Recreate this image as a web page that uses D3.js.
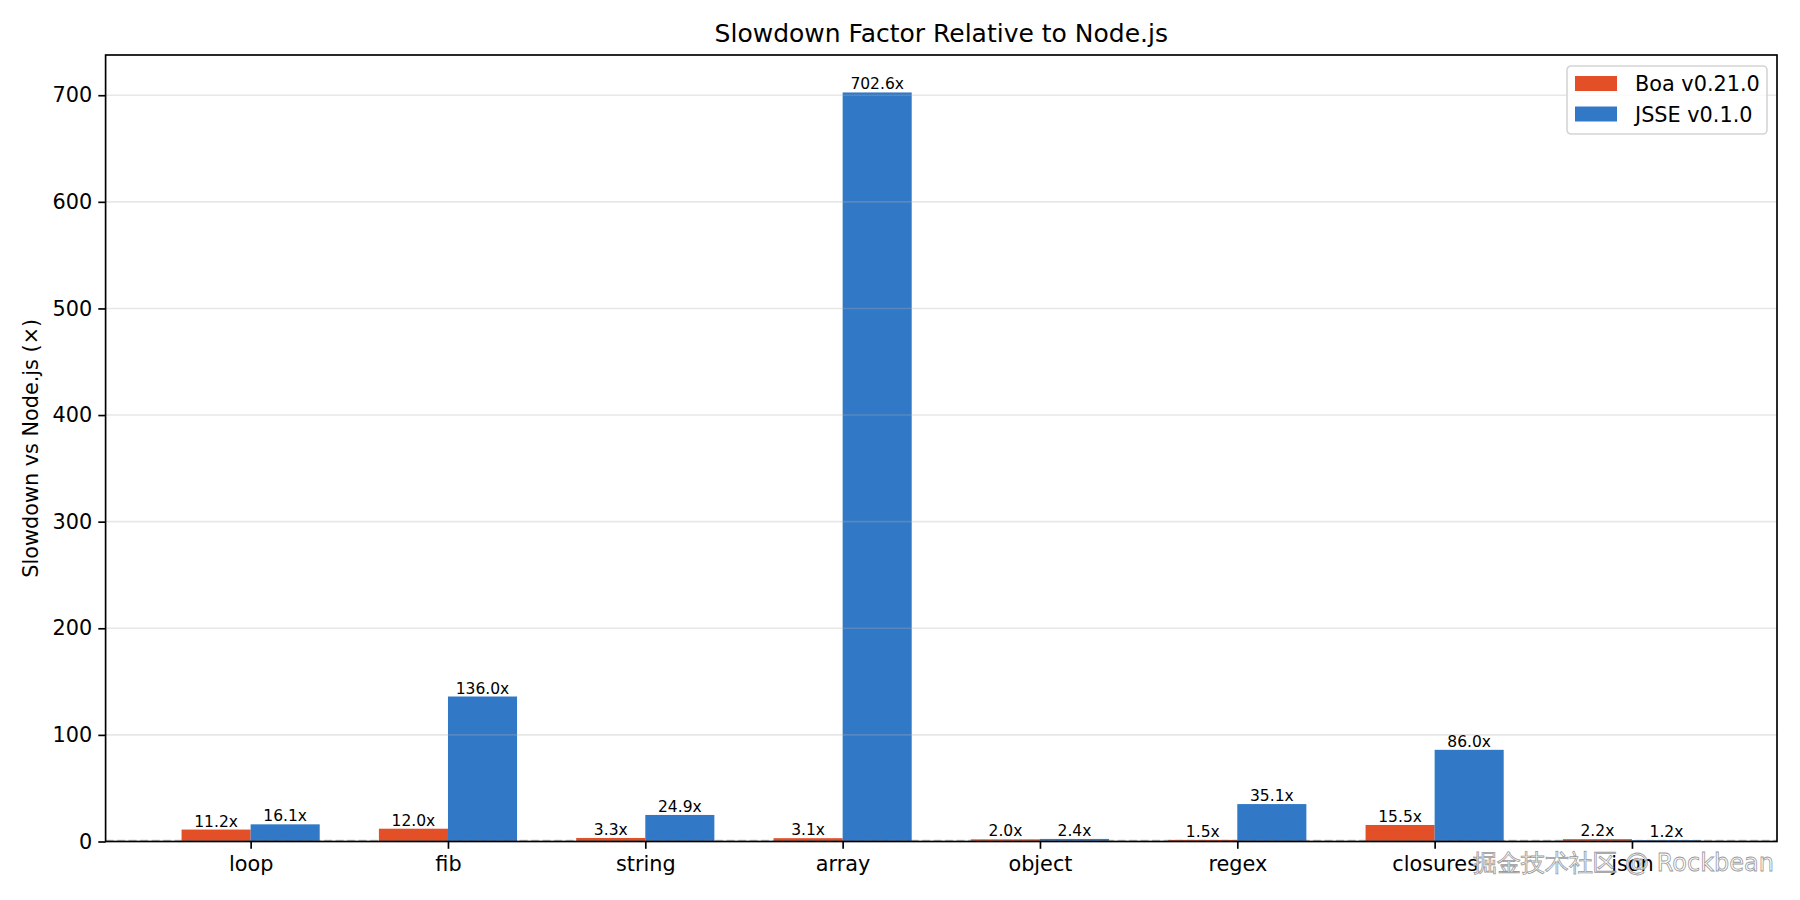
<!DOCTYPE html>
<html>
<head>
<meta charset="utf-8">
<script src="https://cdn.jsdelivr.net/npm/d3@7"></script>
<style>
  body { margin: 0; background: #fff; }
  text { font-family: "DejaVu Sans", sans-serif; fill: #000; }
</style>
</head>
<body>
<div id="chart"></div>
<script>
// data
const categories = ["loop", "fib", "string", "array", "object", "regex", "closures", "json"];
const boaValues = [11.2, 12.0, 3.3, 3.1, 2.0, 1.5, 15.5, 2.2];
const jsseValues = [16.1, 136.0, 24.9, 702.6, 2.4, 35.1, 86.0, 1.2];
const seriesNames = ["Boa v0.21.0", "JSSE v0.1.0"];
const seriesColors = ["#E34F26", "#3178C6"];
const yTicks = [0, 100, 200, 300, 400, 500, 600, 700];

const W = 1800, H = 900;
const margin = {top: 55, right: 23, bottom: 58.5, left: 105.6};
const barW = 0.35;

const svg = d3.select("#chart").append("svg")
    .attr("width", W).attr("height", H);

// x is continuous like matplotlib (index positions, 5% margins)
const x = d3.scaleLinear()
    .domain([-barW - 0.385, categories.length - 1 + barW + 0.385])
    .range([margin.left, W - margin.right]);
const y = d3.scaleLinear()
    .domain([0, d3.max(jsseValues) * 1.05])
    .range([H - margin.bottom, margin.top]);

const series = [boaValues, jsseValues];

// bars
series.forEach((vals, s) => {
    svg.append("g").selectAll("rect")
        .data(vals)
        .enter().append("rect")
        .attr("x", (d, i) => x(i + (s === 0 ? -barW : 0)))
        .attr("width", x(barW) - x(0))
        .attr("y", d => y(d))
        .attr("height", d => y(0) - y(d))
        .attr("fill", seriesColors[s]);
});

// grid lines (horizontal)
svg.append("g").selectAll("line")
    .data(yTicks.slice(1))
    .enter().append("line")
    .attr("x1", margin.left).attr("x2", W - margin.right)
    .attr("y1", d => y(d)).attr("y2", d => y(d))
    .attr("stroke", "#b0b0b0").attr("stroke-opacity", 0.3)
    .attr("stroke-width", 1.6);

// dashed baseline
svg.append("line")
    .attr("x1", margin.left).attr("x2", W - margin.right)
    .attr("y1", y(0) - 1).attr("y2", y(0) - 1)
    .attr("stroke", "#808080").attr("stroke-opacity", 0.5)
    .attr("stroke-width", 1.6)
    .attr("stroke-dasharray", "8,3.5");

// value labels
series.forEach((vals, s) => {
    svg.append("g").selectAll("text")
        .data(vals)
        .enter().append("text")
        .attr("x", (d, i) => x(i + (s === 0 ? -barW / 2 : barW / 2)))
        .attr("y", d => y(d) - 3)
        .attr("text-anchor", "middle")
        .attr("font-size", 15.5)
        .text(d => d.toFixed(1) + "x");
});

// axes
const yAxis = d3.axisLeft(y).tickValues(yTicks).tickSize(7.3).tickPadding(6);
const gy = svg.append("g")
    .attr("transform", `translate(${margin.left},0)`)
    .call(yAxis);
gy.select(".domain").remove();
gy.selectAll(".tick line").attr("stroke", "#000").attr("stroke-width", 1.67);
gy.selectAll(".tick text").attr("font-size", 20.8).attr("font-family", "DejaVu Sans");

const xAxis = d3.axisBottom(x)
    .tickValues(d3.range(categories.length))
    .tickFormat(i => categories[i])
    .tickSize(7.3).tickPadding(7.5);
const gx = svg.append("g")
    .attr("transform", `translate(0,${H - margin.bottom})`)
    .call(xAxis);
gx.select(".domain").remove();
gx.selectAll(".tick line").attr("stroke", "#000").attr("stroke-width", 1.67);
gx.selectAll(".tick text").attr("font-size", 20.8).attr("font-family", "DejaVu Sans");

// frame (spines)
svg.append("rect")
    .attr("x", margin.left).attr("y", margin.top)
    .attr("width", W - margin.right - margin.left)
    .attr("height", H - margin.bottom - margin.top)
    .attr("fill", "none").attr("stroke", "#000").attr("stroke-width", 1.67);

// title and y label
svg.append("text")
    .attr("x", (margin.left + W - margin.right) / 2)
    .attr("y", 42)
    .attr("text-anchor", "middle")
    .attr("font-size", 25)
    .text("Slowdown Factor Relative to Node.js");

svg.append("text")
    .attr("transform", `translate(38,${(margin.top + H - margin.bottom) / 2}) rotate(-90)`)
    .attr("text-anchor", "middle")
    .attr("font-size", 20.8)
    .text("Slowdown vs Node.js (×)");

// legend
const lg = svg.append("g").attr("transform", "translate(1567,66)");
lg.append("rect")
    .attr("width", 200).attr("height", 68).attr("rx", 4)
    .attr("fill", "#fff").attr("fill-opacity", 0.8)
    .attr("stroke", "#d5d5d5").attr("stroke-width", 1.6);
seriesNames.forEach((name, i) => {
    lg.append("rect")
        .attr("x", 8).attr("y", 10 + i * 30.5)
        .attr("width", 42).attr("height", 15)
        .attr("fill", seriesColors[i]);
    lg.append("text")
        .attr("x", 68).attr("y", 25 + i * 30.5)
        .attr("font-size", 20.8)
        .text(name);
});

// watermark (sits over the last tick label, as in the reference)
svg.append("text")
    .attr("x", 1774).attr("y", 871)
    .attr("text-anchor", "end")
    .attr("font-family", "Noto Sans CJK SC, sans-serif")
    .attr("font-size", 24)
    .style("fill", "#ffffff").style("fill-opacity", 0.75)
    .attr("stroke", "#9a9a9a").attr("stroke-width", 0.8)
    .text("掘金技术社区 @ Rockbean");
</script>
</body>
</html>
